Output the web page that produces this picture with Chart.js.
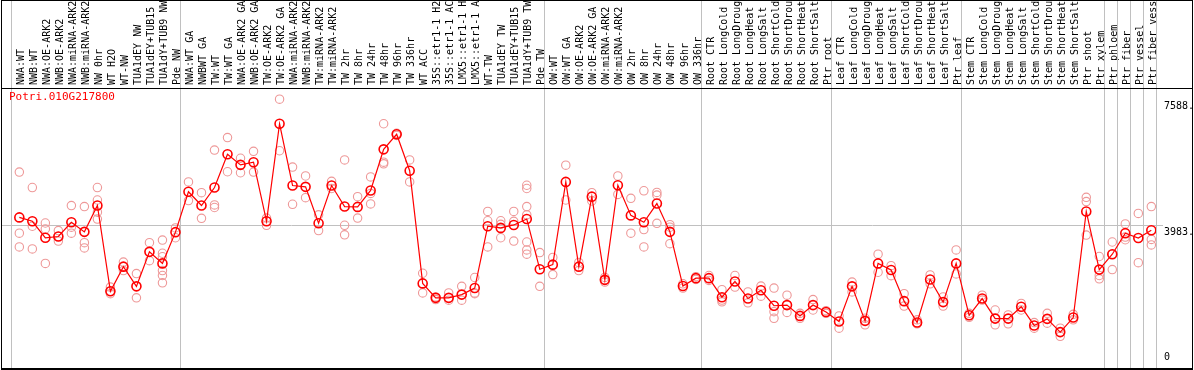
<!DOCTYPE html>
<html><head><meta charset="utf-8">
<script src="https://cdn.jsdelivr.net/npm/chart.js@4"></script>
<style>html,body{margin:0;padding:0;background:#fff;overflow:hidden}</style>
</head><body>
<canvas id="c" width="1194" height="370" style="display:block;width:1194px;height:370px"></canvas>
<script>
const geneName = "Potri.010G217800";

const categories = [
 "NWA:WT","NWB:WT","NWA:OE-ARK2","NWB:OE-ARK2","NWA:miRNA-ARK2","NWB:miRNA-ARK2","NW 0hr","WT H2O","WT-NW","TUA1dEY NW","TUA1dEY+TUB15","TUA1dY+TUB9 NW","Pde NW",
 "NWA:WT GA","NWBWT GA","TW:WT","TW:WT GA","NWA:OE-ARK2 GA","NWB:OE-ARK2 GA","TW:OE-ARK2","TW:OE-ARK2 GA","NWA:miRNA-ARK2","NWB:miRNA-ARK2","TW:miRNA-ARK2","TW:miRNA-ARK2","TW 2hr","TW 8hr","TW 24hr","TW 48hr","TW 96hr","TW 336hr","WT ACC","35S::etr1-1 H2","35S::etr1-1 AC","LMX5::etr1-1 H","LMX5::etr1-1 A","WT-TW","TUA1dEY TW","TUA1dEY+TUB15","TUA1dY+TUB9 TW","Pde TW",
 "OW:WT","OW:WT GA","OW:OE-ARK2","OW:OE-ARK2 GA","OW:miRNA-ARK2","OW:miRNA-ARK2","OW 2hr","OW 8hr","OW 24hr","OW 48hr","OW 96hr","OW 336hr",
 "Root CTR","Root LongCold","Root LongDroug","Root LongHeat","Root LongSalt","Root ShortCold","Root ShortDrou","Root ShortHeat","Root ShortSalt","Ptr root",
 "Leaf CTR","Leaf LongCold","Leaf LongDroug","Leaf LongHeat","Leaf LongSalt","Leaf ShortCold","Leaf ShortDrou","Leaf ShortHeat","Leaf ShortSalt","Ptr leaf",
 "Stem CTR","Stem LongCold","Stem LongDroug","Stem LongHeat","Stem LongSalt","Stem ShortCold","Stem ShortDrou","Stem ShortHeat","Stem ShortSalt","Ptr shoot","Ptr xylem",
 "Ptr phloem","Ptr fiber","Ptr vessel","Ptr fiber vess"
];

const means = [
 4200,4088,3616,3652,4059,3785,4540,2082,2788,2223,
 3212,2881,3777,4935,4540,5056,6008,5706,5782,4088,
 6884,5113,5076,4031,5113,4511,4500,4972,6150,6582,
 5537,2308,1893,1893,1986,2175,3946,3898,3983,4152,
 2712,2845,5217,2788,4794,2410,5121,4257,4059,4596,
 3785,2232,2458,2458,1912,2364,1873,2110,1667,1686,
 1376,1686,1489,1215,2223,1234,2881,2692,1799,1186,
 2421,1771,2881,1393,1873,1299,1299,1638,1102,1291,
 912,1328,4370,2703,3144,3748,3607,3833
];

const replicates = [
 [5500,3748,3353],[5056,3946,3297],[4039,3870,2881],[3822,3652,3522],[4540,3918,3748],
 [4511,3474,3325],[5056,4698,4350,4152],[2203,2082,2014],[2918,2788,2675],[2590,1893],
 [3474,2958],[3551,3172,3071,2675,2534,2325],[3898,3616],[5217,4681],[4907,4172],
 [6130,4556,4483],[6488,5508],[5895,5480],[6093,5500],[4181,3974],
 [7588,6110],[5641,4576],[5387,4765],[4274,3822],[5234,5028],
 [5847,3974,3700],[4794,4181],[5359,4887,4585],[6884,5782,5734],[6610,6550],
 [5847,5217],[2599,2034],[1921,1845],[2034,1828],[2223,1828],
 [2477,2034,2014],[4370,4104,3353],[4104,4000,3616],[4370,4088,3522],[5121,5028,4511,4274,3494,3268,3144],
 [3192,2223],[3051,2562],[5698,4698],[2910,2675],[4907,4670],
 [2480,2400,2345],[5387,4859],[4746,3748],[4963,3850,3353],[4915,4839,4031],
 [3990,3920,3446],[2297,2175],[2500,2420],[2534,2393],[2127,1830,1780],
 [2534,2203],[2062,1751],[2232,1941],[2175,1497,1308],[1969,1477],
 [1449,1308],[1845,1545],[1525,1450],[1376,1025],[2345,2062],
 [1308,1121],[3144,2627],[2816,2530],[2014,1658],[1263,1150],
 [2551,2297],[1921,1658],[3268,2579],[1449,1336],[1969,1831],
 [1545,1121],[1403,1150],[1732,1545],[1186,1025],[1449,1167],
 [1025,791],[1421,1263],[4774,4652,3692],[3079,2534,2438],[3494,3144,2703],
 [4011,3635,3559],[4313,2901],[4511,3568,3410]
];

const yTickValues = [7588, 3983, 0];
const yTickLabels = ["7588.", "3983.", "0"];
const gridValue = 3983;
const groupBoundaries = [0,13,41,53,63,73,84,85,86,87,88];

const X_OFF = 0.36;
const Y_MAX = 7909;

const meanData = means.map((v, i) => ({x: i + 1, y: v}));
const repData = [];
replicates.forEach((arr, i) => arr.forEach(v => repData.push({x: i + 1, y: v})));

const MONO = "'DejaVu Sans Mono', monospace";

const decor = {
  id: 'decor',
  beforeDatasetsDraw(chart) {
    const ctx = chart.ctx, xs = chart.scales.x, ys = chart.scales.y;
    ctx.save();
    ctx.strokeStyle = '#c0c0c0';
    ctx.lineWidth = 1;
    ctx.beginPath();
    groupBoundaries.forEach(b => {
      const px = Math.round(xs.getPixelForValue(b + X_OFF)) + 0.5;
      ctx.moveTo(px, 0); ctx.lineTo(px, 368);
    });
    const gy = Math.round(ys.getPixelForValue(gridValue)) + 0.5;
    ctx.moveTo(1, gy); ctx.lineTo(1163, gy);
    ctx.stroke();
    ctx.restore();
  },
  afterDraw(chart) {
    const ctx = chart.ctx, ys = chart.scales.y;
    ctx.save();
    ctx.fillStyle = '#000';
    ctx.fillRect(1, 0, 1192, 1);
    ctx.fillRect(1, 88, 1192, 1);
    ctx.fillRect(1, 368, 1192, 2);
    ctx.fillRect(1, 0, 1, 370);
    ctx.fillRect(1192, 0, 1, 370);
    ctx.font = '10px ' + MONO;
    ctx.textAlign = 'left';
    yTickValues.forEach((v, i) => {
      const py = ys.getPixelForValue(v);
      if (v === 0) { ctx.textBaseline = 'bottom'; ctx.fillText(yTickLabels[i], 1164, py - 1); }
      else { ctx.textBaseline = 'top'; ctx.fillText(yTickLabels[i], 1164, py + 2); }
    });
    ctx.fillStyle = '#ff0000';
    ctx.font = '11px ' + MONO;
    ctx.textBaseline = 'middle';
    ctx.fillText(geneName, 9, 97);
    ctx.restore();
  }
};

new Chart(document.getElementById('c'), {
  data: {
    datasets: [
      {
        type: 'line', label: geneName, data: meanData, order: 1,
        borderColor: '#ff0000', borderWidth: 1.2, fill: false, tension: 0,
        pointRadius: 4.5, pointBorderWidth: 1.6, pointBorderColor: '#ff0000',
        pointBackgroundColor: 'rgba(0,0,0,0)'
      },
      {
        type: 'scatter', label: 'replicates', data: repData, order: 2,
        showLine: false, pointRadius: 4.2, pointBorderWidth: 1.1,
        pointBorderColor: '#ee9898', pointBackgroundColor: 'rgba(0,0,0,0)'
      }
    ]
  },
  options: {
    responsive: false, animation: false, events: [], devicePixelRatio: 1,
    layout: {padding: {left: 11, right: 38, top: 0, bottom: 2}},
    plugins: {legend: {display: false}, tooltip: {enabled: false}, title: {display: false}},
    scales: {
      x: {
        type: 'linear', position: 'top', min: X_OFF, max: 88 + X_OFF,
        afterBuildTicks: s => { s.ticks = categories.map((_, i) => ({value: i + 1})); },
        afterFit: s => { s.height = 88; },
        grid: {display: false, drawTicks: false},
        border: {display: false},
        ticks: {
          autoSkip: false, minRotation: 90, maxRotation: 90, padding: 3, labelOffset: 14,
          color: '#000', font: {family: MONO, size: 10},
          callback: v => categories[Math.round(v) - 1] || ''
        }
      },
      y: {
        type: 'linear', display: false, min: 0, max: Y_MAX
      }
    }
  },
  plugins: [decor]
});
</script>
</body></html>
